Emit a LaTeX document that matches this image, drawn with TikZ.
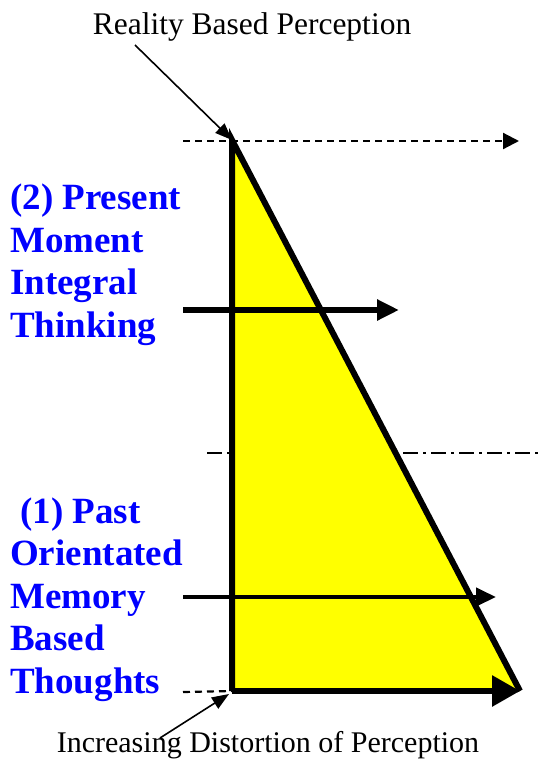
\documentclass[tikz,border=0pt]{standalone}
\usepackage{fontspec}
\setmainfont{Liberation Serif}
\usepackage{xcolor}
\usetikzlibrary{arrows.meta,calc,positioning}
\definecolor{ink}{HTML}{000000}
\definecolor{stage}{HTML}{0000FF}
\definecolor{wedge}{HTML}{FFFF00}
\newcommand{\stagefont}{\fontsize{37}{42.5}\selectfont\bfseries\color{stage}}
\tikzset{guide/.style={draw=ink,line width=2.2pt,dash pattern=on 7pt off 5pt},
  divider/.style={draw=ink,line width=1.8pt,dash pattern=on 15pt off 5pt on 3pt off 5pt},
  flowarrow/.style={-{Triangle[length=22pt,width=20pt]},draw=ink,line width=5.5pt},
  pointer/.style={-{Triangle[length=17pt,width=13pt]},draw=ink,line width=1.6pt},
  caption/.style={font=\fontsize{30}{34}\selectfont,inner sep=0pt,anchor=base},
  stagelabel/.style={font=\stagefont,align=left,inner sep=0pt,anchor=base west}}

\begin{document}
\begin{tikzpicture}[x=1pt,y=-1pt]
\useasboundingbox (0,0) rectangle (543,760);
\coordinate (top) at (232,140);\coordinate (bl) at (232,691);\coordinate (br) at (520,691);
\node[caption,font=\fontsize{31.5}{34}\selectfont] (reality) at (252,35) {Reality Based Perception};
\node[caption] (distort) at (268,752) {Increasing Distortion of Perception};
\node[stagelabel] (present) at (10,337) {(2) Present\\Moment\\Integral\\Thinking};
\node[stagelabel] (past) at (10,693) {\hspace*{10pt}(1) Past\\Orientated\\Memory\\Based\\Thoughts};
\coordinate (topguide) at (183,141);\coordinate (topend) at (519,141);
\coordinate (midguide) at (207,453);\coordinate (midend) at (543,453);
\coordinate (lowguide) at (183,692);
% guides behind the wedge
\draw[guide,-{Triangle[length=16pt,width=16pt]}] (topguide)--(topend);
\draw[divider] (midguide)--(midend);
\draw[guide] (lowguide)--(bl);
\fill[wedge] (top)--(bl)--(br)--cycle;
\draw[ink,line width=6pt,line join=miter] (bl)--(top)--(br);
\draw[flowarrow,line width=6pt,-{Triangle[length=28pt,width=30pt]}] (bl)--(br);
\coordinate (presenttail) at (183,310);\coordinate (presenthead) at (399,310);
\coordinate (pasttail) at (183,597);\coordinate (pasthead) at (496,597);
\draw[flowarrow] (presenttail)--(presenthead);
\draw[flowarrow,line width=4.2pt,-{Triangle[length=20pt,width=18pt]}] (pasttail)--(pasthead);
\coordinate (realtail) at (135,45);\coordinate (distorttail) at (160,738);
\draw[pointer] (realtail)--(top);
\draw[pointer] (distorttail)--($(bl)+(-3,3)$);
\end{tikzpicture}
\end{document}
